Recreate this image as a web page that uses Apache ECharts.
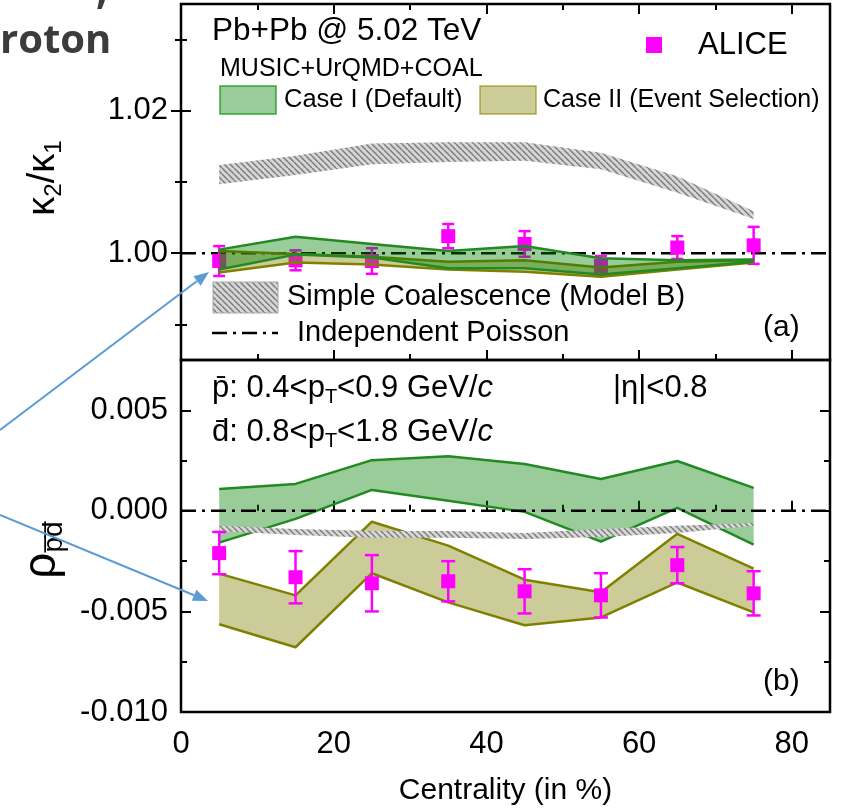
<!DOCTYPE html>
<html>
<head>
<meta charset="utf-8">
<script src="https://cdn.jsdelivr.net/npm/echarts@6/dist/echarts.min.js"></script>
<style>
  html, body { margin: 0; padding: 0; background: #fff; }
  #chart { width: 846px; height: 809px; }
</style>
</head>
<body>
<div id="chart"></div>
<script>
// ---------------- data ----------------
// Centrality bin centres (%)
const centrality = [5, 15, 25, 35, 45, 55, 65, 75];

// Panel (a): kappa2/kappa1
const aliceKappa    = [0.9989, 0.9990, 0.9989, 1.0024, 1.0013, 0.9982, 1.0008, 1.0011];
const aliceKappaErr = [0.0021, 0.0014, 0.0018, 0.0017, 0.0018, 0.0014, 0.0016, 0.0026];
const caseIKappaLow   = [0.9977, 0.9998, 0.9994, 0.9979, 0.9979, 0.9970, 0.9979, 0.9988];
const caseIKappaHigh  = [1.0005, 1.0023, 1.0013, 1.0003, 1.0010, 0.9993, 0.9990, 0.9991];
const caseIIKappaLow  = [0.9973, 0.9987, 0.9984, 0.9977, 0.9974, 0.9967, 0.9977, 0.9987];
const caseIIKappaHigh = [1.0003, 0.9999, 0.9995, 0.9988, 0.9990, 0.9980, 0.9988, 0.9990];
const coalKappaLow    = [1.0097, 1.0110, 1.0125, 1.0128, 1.0130, 1.0118, 1.0085, 1.0048];
const coalKappaHigh   = [1.0124, 1.0137, 1.0154, 1.0156, 1.0156, 1.0141, 1.0108, 1.0059];
const poissonKappa = 1.0;

// Panel (b): rho_{pbar dbar}
const aliceRho    = [-0.0021, -0.0033, -0.0036, -0.0035, -0.0040, -0.0042, -0.0027, -0.0041];
const aliceRhoErr = [0.00105, 0.0013, 0.0014, 0.0010, 0.0011, 0.0011, 0.0009, 0.0011];
const caseIRhoLow   = [-0.00158, -0.00040, 0.00104, 0.00050, -0.00005, -0.00153, 0.00015, -0.00168];
const caseIRhoHigh  = [0.00109, 0.00134, 0.00252, 0.00272, 0.00233, 0.00158, 0.00248, 0.00114];
const caseIIRhoLow  = [-0.00564, -0.00678, -0.00310, -0.00455, -0.00569, -0.00530, -0.00356, -0.00505];
const caseIIRhoHigh = [-0.00312, -0.00420, -0.00054, -0.00173, -0.00342, -0.00405, -0.00114, -0.00287];
const coalRhoLow    = [-0.00100, -0.00120, -0.00134, -0.00134, -0.00140, -0.00130, -0.00110, -0.00074];
const coalRhoHigh   = [-0.00074, -0.00090, -0.00100, -0.00100, -0.00110, -0.00090, -0.00074, -0.00060];
const poissonRho = 0.0;

// Axis ranges and tick positions
const X_MIN = 0, X_MAX = 85;
const KAPPA_MIN = 0.985, KAPPA_MAX = 1.035;
const RHO_MIN = -0.010, RHO_MAX = 0.0075;
const xMajorTicks = [0, 20, 40, 60, 80];
const xMinorTicks = [10, 30, 50, 70];
const kappaMajorTicks = [1.00, 1.02];
const kappaMinorTicks = [0.99, 1.01, 1.03];
const rhoMajorTicks = [-0.010, -0.005, 0.000, 0.005];
const rhoMinorTicks = [-0.0075, -0.0025, 0.0025];

// ---------------- styling ----------------
const FONT = "'Liberation Sans', Arial, Helvetica, sans-serif";
const MAGENTA = '#ff00ff';
const GREEN_EDGE = '#228a22', GREEN_FILL = 'rgba(0,128,0,0.4)';
const OLIVE_EDGE = '#808000', OLIVE_FILL = 'rgba(128,128,0,0.4)';
const ARROW_BLUE = '#5b9bd5';
const DASH_DOT = [15, 6, 3, 6];

// Diagonal hatch used for the simple-coalescence band
function makeHatch(bg, fg, size, lw) {
  const c = document.createElement('canvas');
  c.width = size; c.height = size;
  const g = c.getContext('2d');
  g.fillStyle = bg; g.fillRect(0, 0, size, size);
  g.strokeStyle = fg; g.lineWidth = lw;
  g.beginPath();
  for (let k = -1; k <= 1; k++) {
    g.moveTo(0, k * size);
    g.lineTo(size, size + k * size);
  }
  g.stroke();
  return c;
}
const hatchCanvas = makeHatch('#d6d6d6', '#7a7a7a', 6, 1.4);
const HATCH = { image: hatchCanvas, repeat: 'repeat' };

// ---------------- axes ----------------
function tickAxis(gridIndex, position, min, max, ticks, len, extra) {
  return Object.assign({
    type: 'value', gridIndex, position, min, max,
    axisLine: { show: false },
    splitLine: { show: false },
    axisTick: { show: true, inside: true, length: len, customValues: ticks,
                lineStyle: { color: '#000', width: 2 } },
    axisLabel: { show: false }
  }, extra || {});
}
const labelStyle = { show: true, fontSize: 31, color: '#000', fontFamily: FONT };

const xAxes = [
  tickAxis(0, 'bottom', X_MIN, X_MAX, xMajorTicks, 10),
  tickAxis(0, 'bottom', X_MIN, X_MAX, xMinorTicks, 6),
  tickAxis(0, 'top', X_MIN, X_MAX, xMajorTicks, 10),
  tickAxis(0, 'top', X_MIN, X_MAX, xMinorTicks, 6),
  tickAxis(1, 'bottom', X_MIN, X_MAX, xMajorTicks, 10, {
    axisLabel: Object.assign({ customValues: xMajorTicks, margin: 17 }, labelStyle),
    name: 'Centrality (in %)', nameLocation: 'middle', nameGap: 64,
    nameTextStyle: { fontSize: 30, color: '#000', fontFamily: FONT }
  }),
  tickAxis(1, 'bottom', X_MIN, X_MAX, xMinorTicks, 6)
];
const yAxes = [
  tickAxis(0, 'left', KAPPA_MIN, KAPPA_MAX, kappaMajorTicks, 10, {
    axisLabel: Object.assign({ customValues: kappaMajorTicks, margin: 13,
      formatter: v => Number(v).toFixed(2) }, labelStyle)
  }),
  tickAxis(0, 'left', KAPPA_MIN, KAPPA_MAX, kappaMinorTicks, 6),
  tickAxis(0, 'right', KAPPA_MIN, KAPPA_MAX, kappaMajorTicks, 10),
  tickAxis(0, 'right', KAPPA_MIN, KAPPA_MAX, kappaMinorTicks, 6),
  tickAxis(1, 'left', RHO_MIN, RHO_MAX, rhoMajorTicks, 10, {
    axisLabel: Object.assign({ customValues: rhoMajorTicks, margin: 13,
      formatter: v => Number(v).toFixed(3) }, labelStyle)
  }),
  tickAxis(1, 'left', RHO_MIN, RHO_MAX, rhoMinorTicks, 6),
  tickAxis(1, 'right', RHO_MIN, RHO_MAX, rhoMajorTicks, 10),
  tickAxis(1, 'right', RHO_MIN, RHO_MAX, rhoMinorTicks, 6)
];

// ---------------- series builders ----------------
// A model band: filled polygon between the low and high curves, with optional edge lines
function band(lo, hi, xi, yi, edge, fill, z) {
  return {
    type: 'custom', xAxisIndex: xi, yAxisIndex: yi, z, silent: true,
    data: centrality.map((c, i) => [c, lo[i], hi[i]]),
    encode: { x: 0, y: [1, 2] },
    renderItem(params, api) {
      if (params.dataIndexInside !== 0) return null;
      const n = params.dataInsideLength;
      const top = [], bot = [];
      for (let j = 0; j < n; j++) {
        top.push(api.coord([api.value(0, j), api.value(2, j)]));
        bot.push(api.coord([api.value(0, j), api.value(1, j)]));
      }
      const children = [{ type: 'polygon', shape: { points: top.concat(bot.slice().reverse()) },
                          style: { fill, stroke: null } }];
      if (edge) {
        children.push({ type: 'polyline', shape: { points: top },
                        style: { stroke: edge, lineWidth: 2.5, fill: null, lineJoin: 'round' } });
        children.push({ type: 'polyline', shape: { points: bot },
                        style: { stroke: edge, lineWidth: 2.5, fill: null, lineJoin: 'round' } });
      }
      return { type: 'group', children };
    }
  };
}

function errorBars(xi, yi, vals, errs, cap, z) {
  return {
    type: 'custom', xAxisIndex: xi, yAxisIndex: yi, z, silent: true,
    data: centrality.map((c, i) => [c, vals[i] - errs[i], vals[i] + errs[i]]),
    encode: { x: 0, y: [1, 2] },
    renderItem(params, api) {
      const lo = api.coord([api.value(0), api.value(1)]);
      const hi = api.coord([api.value(0), api.value(2)]);
      const st = { stroke: MAGENTA, lineWidth: 2.5 };
      return { type: 'group', children: [
        { type: 'line', shape: { x1: lo[0], y1: lo[1], x2: hi[0], y2: hi[1] }, style: st },
        { type: 'line', shape: { x1: lo[0] - cap, y1: lo[1], x2: lo[0] + cap, y2: lo[1] }, style: st },
        { type: 'line', shape: { x1: hi[0] - cap, y1: hi[1], x2: hi[0] + cap, y2: hi[1] }, style: st }
      ] };
    }
  };
}

function points(xi, yi, vals, z) {
  return { type: 'scatter', xAxisIndex: xi, yAxisIndex: yi, z, silent: true,
           symbol: 'rect', symbolSize: 14, itemStyle: { color: MAGENTA, opacity: 1 },
           data: centrality.map((c, i) => [c, vals[i]]) };
}

function refLine(xi, yi, value, z) {
  return { type: 'line', xAxisIndex: xi, yAxisIndex: yi, z, silent: true, symbol: 'none',
           data: [[X_MIN, value], [X_MAX, value]],
           lineStyle: { color: '#000', width: 2.5, type: DASH_DOT } };
}

const series = [
  // panel (a)
  refLine(0, 0, poissonKappa, 2),
  errorBars(0, 0, aliceKappa, aliceKappaErr, 6, 3),
  points(0, 0, aliceKappa, 4),
  band(coalKappaLow, coalKappaHigh, 0, 0, null, HATCH, 5),
  band(caseIIKappaLow, caseIIKappaHigh, 0, 0, OLIVE_EDGE, OLIVE_FILL, 6),
  band(caseIKappaLow, caseIKappaHigh, 0, 0, GREEN_EDGE, GREEN_FILL, 7),
  // panel (b)
  band(caseIRhoLow, caseIRhoHigh, 4, 4, GREEN_EDGE, GREEN_FILL, 3),
  band(caseIIRhoLow, caseIIRhoHigh, 4, 4, OLIVE_EDGE, OLIVE_FILL, 4),
  band(coalRhoLow, coalRhoHigh, 4, 4, null, HATCH, 5),
  refLine(4, 4, poissonRho, 6),
  errorBars(4, 4, aliceRho, aliceRhoErr, 7, 7),
  points(4, 4, aliceRho, 8)
];

// ---------------- annotations ----------------
function txt(x, y, text, size, extra) {
  return { type: 'text', x, y, silent: true, z: 50,
    style: Object.assign({ text, fontSize: size, fontFamily: FONT, fill: '#000',
      align: 'left', verticalAlign: 'middle', textAlign: 'left', textVerticalAlign: 'middle' }, extra || {}) };
}

function arrow(x1, y1, x2, y2) {
  const a = Math.atan2(y2 - y1, x2 - x1), L = 15, W = 6;
  const bx = x2 - L * Math.cos(a), by = y2 - L * Math.sin(a);
  return [
    { type: 'line', silent: true, z: 60, shape: { x1, y1, x2: bx, y2: by },
      style: { stroke: ARROW_BLUE, lineWidth: 2 } },
    { type: 'polygon', silent: true, z: 60, shape: { points: [
        [x2, y2],
        [bx + W * Math.sin(a), by - W * Math.cos(a)],
        [bx - W * Math.sin(a), by + W * Math.cos(a)]
      ] }, style: { fill: ARROW_BLUE } }
  ];
}

const ptRich = {
  t: { fontSize: 31, lineHeight: 38, fontFamily: FONT, fill: '#000' },
  s: { fontSize: 20, lineHeight: 20, verticalAlign: 'bottom', fontFamily: FONT, fill: '#000' },
  i: { fontSize: 31, lineHeight: 38, fontStyle: 'italic', fontFamily: FONT, fill: '#000' }
};

const titleStyle = { fontSize: 40, fontWeight: 'bold', fontFamily: "'Open Sans', " + FONT,
                     fill: '#3c3c3c', align: 'left', verticalAlign: 'bottom',
                     textAlign: 'left', textVerticalAlign: 'bottom' };

const graphics = [
  // slide title fragment
  { type: 'text', x: 0, y: 62, silent: true, style: Object.assign({ text: 'roton' }, titleStyle) },
  { type: 'text', x: 96, y: 13, silent: true, style: Object.assign({ text: ',' }, titleStyle) },

  // panel (a) labels and legend
  txt(212, 31, 'Pb+Pb @ 5.02 TeV', 31.5),
  txt(220, 69, 'MUSIC+UrQMD+COAL', 25),
  { type: 'rect', silent: true, z: 50, shape: { x: 220, y: 86, width: 56, height: 28 },
    style: { fill: GREEN_FILL, stroke: 'rgba(0,140,0,0.55)', lineWidth: 2 } },
  txt(284, 100, 'Case I (Default)', 25.5),
  { type: 'rect', silent: true, z: 50, shape: { x: 480, y: 86, width: 56, height: 28 },
    style: { fill: OLIVE_FILL, stroke: 'rgba(140,140,0,0.5)', lineWidth: 2 } },
  txt(543, 100, 'Case II (Event Selection)', 25),
  { type: 'rect', silent: true, z: 50, shape: { x: 646, y: 37, width: 16, height: 16 },
    style: { fill: MAGENTA } },
  txt(698, 45, 'ALICE', 31),
  { type: 'rect', silent: true, z: 50, shape: { x: 213, y: 282, width: 65, height: 31 },
    style: { fill: HATCH, stroke: '#a8a8a8', lineWidth: 1 } },
  txt(287, 297, 'Simple Coalescence (Model B)', 29),
  { type: 'line', silent: true, z: 50, shape: { x1: 212, y1: 333, x2: 278, y2: 333 },
    style: { stroke: '#000', lineWidth: 2.5, lineDash: DASH_DOT } },
  txt(297, 333, 'Independent Poisson', 29),
  txt(763, 328, '(a)', 30),

  // panel (b) labels
  txt(212, 388, '', 31, { text: '{t|p\u0304: 0.4<p}{s|T}{t|<0.9 GeV/}{i|c}', rich: ptRich }),
  txt(212, 432, '', 31, { text: '{t|d\u0304: 0.8<p}{s|T}{t|<1.8 GeV/}{i|c}', rich: ptRich }),
  txt(613, 388, '|\u03b7|<0.8', 31),
  txt(763, 682, '(b)', 30),

  // rotated y-axis titles
  { type: 'text', x: 44, y: 178, rotation: Math.PI / 2, silent: true, z: 50,
    style: { text: '{k|\u03ba}{s|2}{k|/\u03ba}{s|1}', align: 'center', verticalAlign: 'middle',
             textAlign: 'center', textVerticalAlign: 'middle',
             rich: { k: { fontSize: 38, lineHeight: 44, fontFamily: FONT, fill: '#000' },
                     s: { fontSize: 24, lineHeight: 24, verticalAlign: 'bottom', fontFamily: FONT, fill: '#000' } } } },
  { type: 'text', x: 42, y: 550, rotation: Math.PI / 2, silent: true, z: 50,
    style: { text: '{r|\u03c1}{s|p\u0305d\u0305}', align: 'center', verticalAlign: 'middle',
             textAlign: 'center', textVerticalAlign: 'middle',
             rich: { r: { fontSize: 46, lineHeight: 52, fontFamily: FONT, fill: '#000' },
                     s: { fontSize: 28, lineHeight: 28, verticalAlign: 'bottom', fontFamily: FONT, fill: '#000' } } } },

  // pointer arrows
  ...arrow(0, 430, 209, 272),
  ...arrow(0, 515, 208, 601)
];

const chart = echarts.init(document.getElementById('chart'), null, { renderer: 'canvas' });
chart.setOption({
  animation: false,
  backgroundColor: '#fff',
  grid: [
    { left: 181, top: 4, width: 649, height: 356, show: true, borderColor: '#000', borderWidth: 2.5,
      backgroundColor: 'transparent', outerBoundsMode: 'none' },
    { left: 181, top: 360, width: 649, height: 352, show: true, borderColor: '#000', borderWidth: 2.5,
      backgroundColor: 'transparent', outerBoundsMode: 'none' }
  ],
  xAxis: xAxes,
  yAxis: yAxes,
  series,
  graphic: { elements: graphics }
});
</script>
</body>
</html>
